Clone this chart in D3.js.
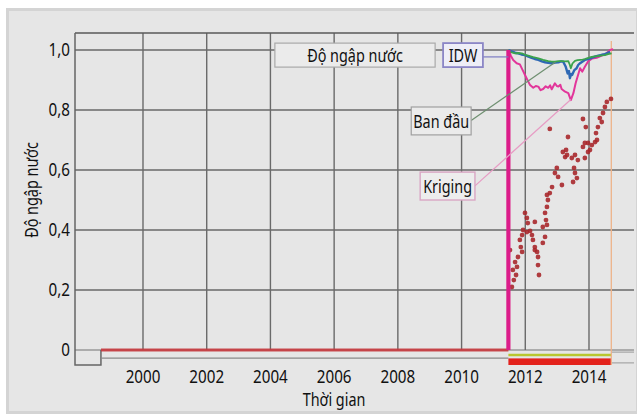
<!DOCTYPE html>
<html>
<head>
<meta charset="utf-8">
<script src="https://cdn.jsdelivr.net/npm/d3@7"></script>
<style>
  html, body { margin: 0; padding: 0; background: #ffffff; }
  svg { display: block; }
  text { font-family: "Noto Sans", "Open Sans", sans-serif; fill: #111; }
</style>
</head>
<body>
<svg id="chart" width="637" height="420"></svg>
<script>
// Flood ratio ("Độ ngập nước") over time, decimal years.
const yTicks = [0, 0.2, 0.4, 0.6, 0.8, 1.0];
const yTickLabels = ["0", "0,2", "0,4", "0,6", "0,8", "1,0"];
const xTicks = [2000, 2002, 2004, 2006, 2008, 2010, 2012, 2014];

// Dry period before the event, then the jump to full flooding
const zeroLine = [[1998.68, 0], [2011.47, 0]];
const jumpLine = [[2011.47, 0], [2011.47, 1.0]];
const endYear = 2014.70;

// IDW interpolation
const idw = [
  [2011.47, 1.000], [2011.55, 0.996], [2011.62, 0.994], [2011.70, 0.990], [2011.78, 0.989],
  [2011.88, 0.985], [2011.99, 0.983], [2012.10, 0.978], [2012.20, 0.974], [2012.30, 0.970],
  [2012.41, 0.967], [2012.52, 0.962], [2012.62, 0.959], [2012.72, 0.957], [2012.83, 0.956],
  [2012.94, 0.958], [2013.04, 0.959], [2013.12, 0.962], [2013.19, 0.961], [2013.27, 0.944],
  [2013.33, 0.922], [2013.37, 0.930], [2013.40, 0.906], [2013.44, 0.920], [2013.47, 0.917],
  [2013.54, 0.933], [2013.61, 0.939], [2013.66, 0.950], [2013.72, 0.956], [2013.80, 0.962],
  [2013.87, 0.967], [2013.97, 0.970], [2014.08, 0.974], [2014.18, 0.978], [2014.29, 0.981],
  [2014.40, 0.984], [2014.50, 0.986], [2014.58, 0.990], [2014.66, 0.994]
];

// Original ("Ban đầu") series
const banDau = [
  [2011.47, 1.000], [2011.52, 0.994], [2011.60, 0.991], [2011.68, 0.989], [2011.78, 0.990],
  [2011.89, 0.989], [2011.99, 0.984], [2012.09, 0.981], [2012.25, 0.976], [2012.41, 0.972],
  [2012.56, 0.967], [2012.72, 0.963], [2012.83, 0.961], [2012.93, 0.961], [2013.04, 0.963],
  [2013.14, 0.963], [2013.25, 0.962], [2013.35, 0.963], [2013.40, 0.950], [2013.43, 0.939],
  [2013.48, 0.955], [2013.56, 0.964], [2013.64, 0.966], [2013.72, 0.967], [2013.80, 0.968],
  [2013.87, 0.970], [2013.98, 0.974], [2014.08, 0.977], [2014.19, 0.979], [2014.29, 0.980],
  [2014.40, 0.982], [2014.50, 0.983], [2014.60, 0.986], [2014.71, 0.989]
];

// Kriging interpolation
const kriging = [
  [2011.47, 1.000], [2011.55, 0.980], [2011.62, 0.967], [2011.73, 0.956], [2011.83, 0.952],
  [2011.94, 0.928], [2012.04, 0.906], [2012.15, 0.883], [2012.25, 0.874], [2012.33, 0.880],
  [2012.41, 0.878], [2012.48, 0.866], [2012.56, 0.870], [2012.64, 0.879], [2012.72, 0.874],
  [2012.78, 0.882], [2012.83, 0.869], [2012.93, 0.889], [2012.99, 0.880], [2013.04, 0.878],
  [2013.10, 0.884], [2013.14, 0.870], [2013.25, 0.861], [2013.35, 0.856], [2013.43, 0.833],
  [2013.51, 0.856], [2013.58, 0.889], [2013.64, 0.911], [2013.72, 0.939], [2013.79, 0.928],
  [2013.87, 0.944], [2013.98, 0.963], [2014.10, 0.972], [2014.24, 0.974], [2014.40, 0.981],
  [2014.55, 0.989], [2014.66, 1.000], [2014.76, 1.003]
];

// Observed flood ratio samples
const observed = [
  [2012.77, 0.737], [2013.81, 0.770], [2013.34, 0.710], [2013.18, 0.660], [2013.31, 0.650],
  [2013.46, 0.640], [2013.28, 0.667], [2013.25, 0.643], [2013.56, 0.650], [2013.65, 0.633],
  [2013.81, 0.677], [2013.97, 0.690], [2014.03, 0.667], [2013.87, 0.640], [2014.09, 0.683],
  [2013.97, 0.660], [2013.87, 0.690], [2014.19, 0.693], [2014.50, 0.810], [2014.56, 0.827],
  [2014.69, 0.837], [2014.44, 0.790], [2014.34, 0.773], [2014.40, 0.760], [2014.28, 0.743],
  [2014.22, 0.723], [2014.25, 0.700], [2013.90, 0.743], [2012.99, 0.607], [2012.93, 0.590],
  [2013.03, 0.577], [2013.53, 0.607], [2013.56, 0.590], [2013.62, 0.573], [2013.50, 0.560],
  [2012.84, 0.543], [2013.15, 0.550], [2012.77, 0.523], [2012.68, 0.517], [2012.71, 0.500],
  [2012.68, 0.477], [2012.62, 0.457], [2012.65, 0.433], [2012.68, 0.417], [2011.99, 0.457],
  [2012.05, 0.440], [2012.08, 0.423], [2012.30, 0.427], [2011.93, 0.400], [2012.05, 0.393],
  [2012.15, 0.397], [2012.21, 0.383], [2012.24, 0.367], [2011.90, 0.383], [2012.55, 0.410],
  [2012.62, 0.377], [2012.55, 0.357], [2012.30, 0.343], [2012.37, 0.327], [2012.40, 0.310],
  [2012.40, 0.283], [2012.43, 0.250], [2011.83, 0.367], [2011.86, 0.343], [2011.90, 0.327],
  [2011.77, 0.310], [2011.68, 0.293], [2011.61, 0.267], [2011.71, 0.250], [2011.64, 0.233],
  [2011.58, 0.210], [2011.74, 0.277], [2011.52, 0.333], [2012.30, 0.333]
];

const svg = d3.select("#chart");
const W = 637, H = 420;
const SQUEEZE = 0.8; // horizontal condensing of all labels

const x = d3.scaleLinear().domain([2000, 2014]).range([143, 589]);
const y = d3.scaleLinear().domain([0, 1]).range([350, 50]);
const xLeft = x.invert(75), xRight = x.invert(634);
const yTop = y.invert(33), yBottom = y.invert(365);

// Condensed text helper: places text at (px, py) and narrows it horizontally
function label(parent, px, py, str, size, anchor, rotate) {
  const t = parent.append("text")
    .attr("transform", `translate(${px},${py})${rotate ? " rotate(" + rotate + ")" : ""} scale(${SQUEEZE},1)`)
    .attr("text-anchor", anchor).attr("dominant-baseline", "central")
    .attr("font-size", size).text(str);
  return t;
}

// Outer panel
svg.append("rect").attr("x", 7.5).attr("y", 9.5).attr("width", W - 7).attr("height", 403)
  .attr("fill", "#e6e6e6").attr("stroke", "#d4d4d4").attr("stroke-width", 3);

const blur = svg.append("defs").append("filter").attr("id", "soft")
  .attr("x", "-5%").attr("y", "-5%").attr("width", "110%").attr("height", "110%");
blur.append("feGaussianBlur").attr("stdDeviation", 0.45);

const plot = svg.append("g").attr("filter", "url(#soft)");
const gridColor = "#6a6a6a";

// Horizontal grid
plot.append("g").selectAll("line").data(yTicks).join("line")
  .attr("x1", x(xLeft)).attr("x2", x(xRight))
  .attr("y1", d => y(d)).attr("y2", d => y(d))
  .attr("stroke", d => d === 0 ? "#9a9a9a" : gridColor)
  .attr("stroke-width", 1.4);

// Vertical grid
plot.append("g").selectAll("line").data(xTicks).join("line")
  .attr("x1", d => x(d)).attr("x2", d => x(d))
  .attr("y1", y(yTop)).attr("y2", y(0))
  .attr("stroke", gridColor).attr("stroke-width", 1.4);

// Frame: top edge, left edge with the notch below the zero line
plot.append("line").attr("x1", x(xLeft)).attr("x2", x(xRight))
  .attr("y1", y(yTop)).attr("y2", y(yTop)).attr("stroke", "#5a5a5a").attr("stroke-width", 1.5);
plot.append("path")
  .attr("d", `M${x(xLeft)},${y(yTop)} V${y(yBottom)} H${x(zeroLine[0][0])} V${y(0)}`)
  .attr("fill", "none").attr("stroke", "#666").attr("stroke-width", 1.5);
plot.append("line")
  .attr("x1", x(zeroLine[0][0])).attr("x2", x(zeroLine[1][0]))
  .attr("y1", y(-0.027)).attr("y2", y(-0.027))
  .attr("stroke", "#8a8a8a").attr("stroke-width", 1.3);
// Box to the right of the observation window
plot.append("path")
  .attr("d", `M${x(endYear)},${y(-0.007)} H${x(xRight)} M${x(endYear)},${y(-0.043)} H${x(xRight)}`)
  .attr("fill", "none").attr("stroke", "#a8a8a8").attr("stroke-width", 1.2);

// Observation window bands beneath the axis
plot.append("line")
  .attr("x1", x(zeroLine[1][0])).attr("x2", x(endYear))
  .attr("y1", y(-0.017)).attr("y2", y(-0.017))
  .attr("stroke", "#b9c62e").attr("stroke-width", 2.5);
plot.append("rect")
  .attr("x", x(zeroLine[1][0])).attr("width", x(endYear) - x(zeroLine[1][0]))
  .attr("y", y(-0.028)).attr("height", y(-0.05) - y(-0.028))
  .attr("fill", "#e3221f");

// End of observation marker
plot.append("line")
  .attr("x1", x(endYear)).attr("x2", x(endYear))
  .attr("y1", y(1.03)).attr("y2", y(-0.05))
  .attr("stroke", "#eeb48a").attr("stroke-width", 1.3);

const line = d3.line().x(d => x(d[0])).y(d => y(d[1]));

// Zero line
plot.append("path").datum(zeroLine).attr("d", line)
  .attr("fill", "none").attr("stroke", "#c83a3e").attr("stroke-width", 3.2).attr("stroke-opacity", 0.9);

// Observed samples
plot.append("g").selectAll("circle").data(observed).join("circle")
  .attr("cx", d => x(d[0])).attr("cy", d => y(d[1])).attr("r", 2.4)
  .attr("fill", "#a8282c").attr("fill-opacity", 0.9);

// Series lines
plot.append("path").datum(kriging).attr("d", line)
  .attr("fill", "none").attr("stroke", "#e2369a").attr("stroke-width", 2).attr("stroke-linejoin", "round");
plot.append("path").datum(idw).attr("d", line)
  .attr("fill", "none").attr("stroke", "#2d68b4").attr("stroke-width", 2.4).attr("stroke-linejoin", "round");
plot.append("path").datum(banDau).attr("d", line)
  .attr("fill", "none").attr("stroke", "#3aa34c").attr("stroke-width", 1.8).attr("stroke-linejoin", "round");

// The jump to full flooding
plot.append("path").datum(jumpLine).attr("d", line)
  .attr("fill", "none").attr("stroke", "#dc1f8a").attr("stroke-width", 4.2);

// Annotation boxes with leader lines
function labelBox(text, x0, x1, v0, v1, stroke, fill, sw) {
  const g = svg.append("g");
  g.append("rect").attr("x", x(x0)).attr("y", y(v0))
    .attr("width", x(x1) - x(x0)).attr("height", y(v1) - y(v0))
    .attr("fill", fill).attr("stroke", stroke).attr("stroke-width", sw);
  label(g, (x(x0) + x(x1)) / 2, (y(v0) + y(v1)) / 2, text, 18, "middle");
}
function leader(a, b, color) {
  svg.append("line").attr("x1", x(a[0])).attr("y1", y(a[1]))
    .attr("x2", x(b[0])).attr("y2", y(b[1]))
    .attr("stroke", color).attr("stroke-width", 1.2);
}

leader([2010.67, 0.977], [2011.47, 0.977], "#7b7bc2");
leader([2010.3, 0.765], [2012.95, 0.96], "#6e8f70");
leader([2010.42, 0.547], [2013.43, 0.835], "#e79cc4");

labelBox("Độ ngập nước", 2004.14, 2009.17, 1.023, 0.943, "#a9a9a9", "#ebebeb", 1.2);
labelBox("IDW", 2009.42, 2010.67, 1.023, 0.943, "#8b86c6", "#eeeef7", 1.8);
labelBox("Ban đầu", 2008.42, 2010.30, 0.81, 0.717, "#a0a0a0", "#ebebeb", 1.2);
labelBox("Kriging", 2008.70, 2010.42, 0.593, 0.50, "#d9a6c4", "#ededed", 1.4);

// Tick labels
const yl = svg.append("g");
yTicks.forEach((d, i) => label(yl, 70, y(d) - 1, yTickLabels[i], 19, "end"));
const xl = svg.append("g");
xTicks.forEach(d => label(xl, x(d), 376, String(d), 19, "middle"));

// Axis titles
label(svg, 334, 399, "Thời gian", 18, "middle");
label(svg, 31, 190, "Độ ngập nước", 18, "middle", -90);
</script>
</body>
</html>
